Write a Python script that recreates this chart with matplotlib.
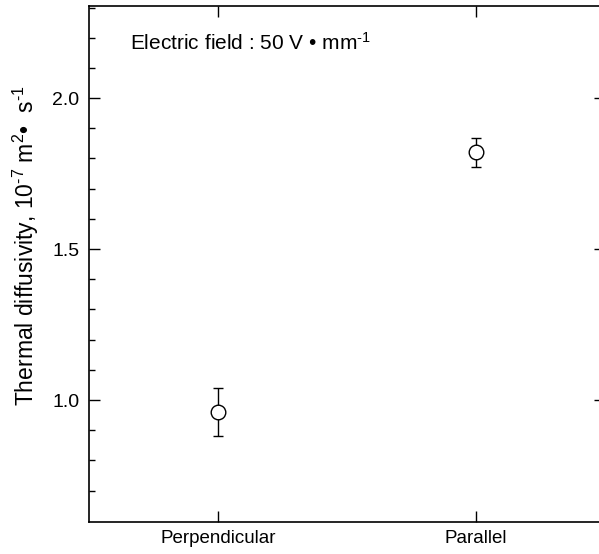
import numpy as np
import matplotlib.pyplot as plt

plt.rcParams['font.family'] = ['Liberation Sans', 'DejaVu Sans']
plt.rcParams['mathtext.fontset'] = 'custom'
plt.rcParams['mathtext.rm'] = 'Liberation Sans'
plt.rcParams['mathtext.it'] = 'Liberation Sans'

# data
categories = ['Perpendicular', 'Parallel']
diffusivity = [0.96, 1.82]
errors = [0.08, 0.047]

fig = plt.figure(figsize=(5.99, 5.54), dpi=100)
ax = fig.add_axes([89 / 599, 1 - 521.7 / 554, (605 - 89) / 599, (521.7 - 6) / 554])

xpos = np.arange(1, len(categories) + 1)
ax.errorbar(xpos, diffusivity, yerr=errors, fmt='o', mfc='white', mec='black',
            ms=10.5, mew=1.0, ecolor='black', elinewidth=1.0, capsize=3.5, capthick=1.0)

ax.set_xlim(0.5, 2.5)
ax.set_ylim(0.597, 2.305)
ax.set_xticks(xpos)
ax.set_xticklabels(categories, fontsize=13.5)
ax.set_yticks([1.0, 1.5, 2.0])
ax.set_yticklabels(['1.0', '1.5', '2.0'], fontsize=14)
ax.set_yticks(np.arange(0.7, 2.31, 0.1), minor=True)
ax.tick_params(which='both', direction='in', top=True, right=True, width=1)
ax.tick_params(which='major', length=8, pad=7)
ax.tick_params(axis='x', which='major', pad=6)
ax.tick_params(which='minor', length=4)
ax.tick_params(axis='x', which='minor', top=False, bottom=False)
ax.tick_params(axis='y', which='minor', right=False)
for s in ax.spines.values():
    s.set_linewidth(1.2)

ax.set_ylabel(r'Thermal diffusivity, 10$^{\text{-7}}$ m$^{2}$•  s$^{\text{-1}}$',
              fontsize=16.5)
ax.yaxis.set_label_coords(-0.093, 0.535)
ax.text(0.08, 0.915, r'Electric field : 50 V • mm$^{\text{-1}}$', transform=ax.transAxes,
        fontsize=15)

plt.savefig('out.png', dpi=100)
